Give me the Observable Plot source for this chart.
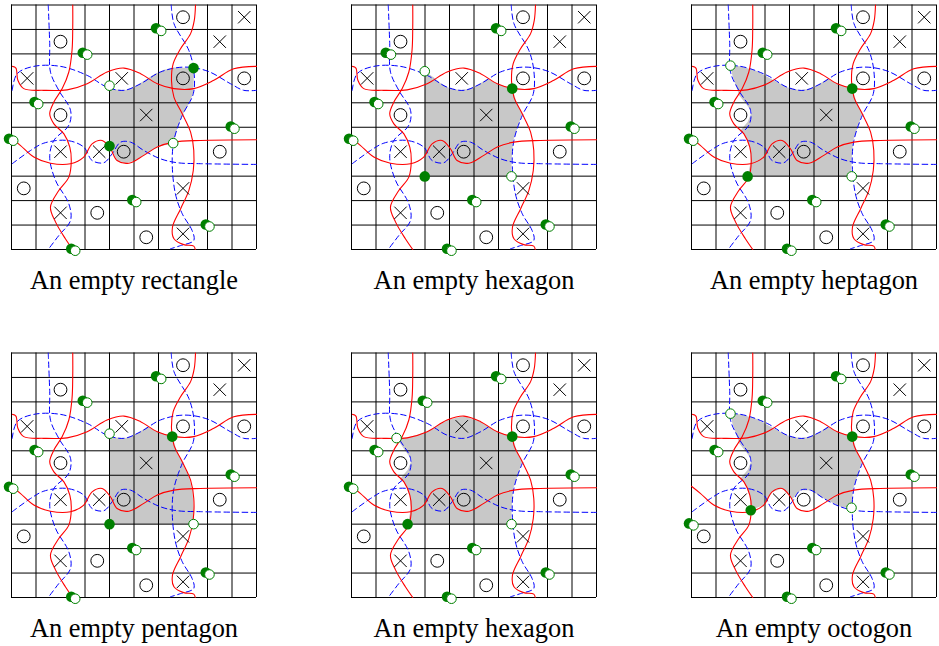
<!DOCTYPE html>
<html>
<head>
<meta charset="utf-8">
<script src="https://cdn.jsdelivr.net/npm/d3@7"></script>
<script src="https://cdn.jsdelivr.net/npm/@observablehq/plot@0.6"></script>
<style>
html,body{margin:0;padding:0;background:#fff;}
#root{position:relative;width:939px;height:646px;overflow:hidden;}
svg{overflow:visible;background:transparent;}
</style>
</head>
<body>
<div id="root"></div>
<script>
const gridX = [0,1,3,4,5,6,8,9,10];
const gridY = [0,1,2,4,5,7,8,9,10];

const crosses = [[9.5,.5],[8.5,1.5],[.64,3],[4.5,3],[5.5,4.5],[2,6],[3.58,6],[7,7.5],[2,8.5],[7,9.36]];
const circles = [[7,.5],[2,1.5],[7,3],[9.5,3],[2,4.5],[4.58,6],[8.5,6],[.5,7.5],[3.5,8.5],[5.5,9.5]];

const redV1 = [[2.5,0],[2.5,.9],[2.47,1.86],[2.34,2.74],[2.07,3.42],[1.73,3.97],[1.56,4.45],[1.73,4.86],[2.14,5.27],[2.38,5.81],[2.44,6.36],[2.34,7.04],[1.93,7.59],[1.59,8.27],[1.8,8.88],[2.2,9.56],[2.5,10]];
const redV2 = [[7.51,0],[7.46,.63],[7.31,1.17],[6.9,1.79],[6.6,2.4],[6.53,3.08],[6.63,3.77],[6.97,4.45],[7.31,5.2],[7.44,5.95],[7.42,6.77],[7.24,7.58],[6.9,8.34],[6.57,9.09],[6.63,9.56],[7.03,9.8],[7.44,9.86],[7.5,10]];
const redH1 = [[.04,2.51],[.18,2.58],[.26,3.08],[.5,3.42],[1.32,3.49],[2.27,3.47],[3.09,3.22],[3.9,2.74],[4.59,2.58],[5.27,2.81],[5.95,3.22],[6.63,3.42],[7.44,3.42],[8.26,3.08],[9.07,2.61],[10,2.51]];
const redH2 = [[0,5.45],[.36,5.74],[.91,6.22],[1.59,6.47],[2.41,6.49],[2.95,6.22],[3.29,5.68],[3.7,5.54],[4.04,5.88],[4.31,6.36],[4.79,6.47],[5.4,6.15],[5.95,5.81],[6.63,5.61],[7.71,5.54],[10,5.51]];
const blueV1 = [[1.5,0],[1.56,1.58],[1.59,2.74],[1.93,3.49],[2.41,4.31],[2.34,4.92],[1.73,5.54],[1.56,6.22],[1.8,7.18],[2.34,8.13],[2.41,8.81],[1.93,9.43],[1.52,9.97]];
const blueV2 = [[6.52,0],[6.63,.76],[7.24,1.86],[7.44,2.67],[7.42,3.63],[6.97,4.52],[6.63,5.54],[6.56,6.49],[6.69,7.72],[6.97,8.54],[7.37,9.22],[7.44,9.63],[6.9,9.84],[6.49,9.97]];
const blueH1 = [[.03,3.49],[.23,2.81],[.91,2.51],[2,2.51],[3.09,2.88],[3.9,3.36],[4.59,3.49],[5.27,3.22],[6.08,2.74],[7.03,2.54],[7.99,2.7],[8.94,3.22],[9.48,3.49],[10,3.49]];
const blueH2 = [[.03,6.49],[.78,5.95],[1.32,5.65],[2.27,5.54],[2.95,5.81],[3.29,6.36],[3.77,6.45],[4.11,6.08],[4.45,5.61],[4.86,5.61],[5.4,5.95],[6.08,6.29],[6.76,6.45],[7.71,6.49],[10,6.52]];
const redCurves = [redV1, redV2, redH1, redH2];
const blueCurves = [blueV1, blueV2, blueH1, blueH2];

const pairA = [[5.9,.95],[6.11,1.06]];
const pairB = [[2.91,1.95],[3.09,2.03]];
const pairB2 = [[1.4,1.95],[1.61,2.03]];
const pairC = [[.94,3.97],[1.09,4.05]];
const pairD = [[8.95,4.97],[9.1,5.06]];
const pairE = [[-.1,5.47],[.07,5.55]];
const pairE2 = [[-.1,6.97],[.08,7.05]];
const pairF = [[4.93,7.98],[5.09,8.06]];
const pairG = [[7.93,8.98],[8.08,9.06]];
const pairH = [[2.44,9.97],[2.6,10.05]];
const pairH2 = [[3.9,9.97],[4.08,10.05]];

const captions = ["An empty rectangle","An empty hexagon","An empty heptagon","An empty pentagon","An empty hexagon","An empty octogon"];

const regionRect = [[4,3.3],[4.18,3.45],[4.59,3.49],[4.99,3.38],[5.33,3.15],[5.81,2.84],[6.22,2.65],[6.63,2.56],[7.43,2.58],[7.44,3.08],[7.41,3.63],[7.24,4.04],[6.97,4.52],[6.76,5.06],[6.6,5.65],[5.95,5.81],[5.4,6.15],[4.99,6.38],[4.65,6.47],[4.31,6.36],[4.11,5.95],[4,5.77]];
const regionHex1 = [[2.99,2.71],[3.36,2.97],[3.63,3.19],[3.97,3.38],[4.45,3.49],[4.99,3.38],[5.54,3.02],[5.95,3.22],[6.56,3.42],[6.76,4.04],[6.97,4.45],[6.76,5.06],[6.6,5.54],[6.53,6.36],[6.53,7.01],[2.99,7.01]];
const regionHept = [[1.59,2.48],[2,2.51],[2.67,2.7],[3.2,3],[3.9,3.36],[4.45,3.49],[4.99,3.38],[5.54,3.02],[5.95,3.22],[6.56,3.42],[6.76,4.04],[6.97,4.45],[6.76,5.06],[6.6,5.54],[6.53,6.36],[6.53,7.01],[2.29,7.01],[2.42,6.4],[2.38,5.81],[2.14,5.27],[1.97,5.16],[2.29,4.79],[2.46,4.38],[2.22,4.04],[1.95,3.7],[1.67,2.88]];
const regionPent = [[4,3.3],[4.18,3.45],[4.59,3.49],[4.99,3.38],[5.54,3.02],[5.95,3.22],[6.56,3.42],[6.76,4.04],[6.97,4.45],[7.24,5.05],[7.38,5.6],[7.44,6.36],[7.43,7],[4,7]];
const regionHex2 = [[1.84,3.48],[2.27,3.47],[3.09,3.22],[3.9,2.74],[4.59,2.58],[5.27,2.81],[5.95,3.22],[6.56,3.42],[6.76,4.04],[6.97,4.45],[6.76,5.06],[6.6,5.54],[6.53,6.36],[6.53,7],[2.29,7],[2.42,6.4],[2.38,5.81],[2.14,5.27],[1.97,5.16],[2.29,4.79],[2.46,4.38],[2.22,4.04]];
const regionOct = [[1.59,2.48],[2,2.51],[2.67,2.7],[3.2,3],[3.9,3.36],[4.45,3.49],[4.99,3.38],[5.54,3.02],[5.95,3.22],[6.56,3.42],[6.76,4.04],[6.97,4.45],[6.76,5.06],[6.6,5.54],[6.53,6.33],[6.08,6.29],[5.4,5.95],[4.86,5.61],[4.45,5.61],[4.11,5.98],[3.7,5.54],[3.29,5.68],[2.95,6.22],[2.42,6.43],[2.38,5.81],[2.14,5.27],[1.97,5.16],[2.29,4.79],[2.46,4.38],[2.22,4.04],[1.95,3.7],[1.67,2.88]];

const solidSpecial = [
  [[7.43,2.58],[4,5.77]],
  [[6.56,3.42],[2.99,7.01]],
  [[6.56,3.42],[2.29,7.01]],
  [[6.56,3.42],[4,7]],
  [[6.56,3.42],[2.29,7]],
  [[6.56,3.42],[2.42,6.43]]
];
const openSpecial = [
  [[4,3.3],[6.6,5.65]],
  [[2.99,2.71],[6.53,7.01]],
  [[1.59,2.48],[6.54,7.01]],
  [[4,3.3],[7.43,7]],
  [[1.84,3.48],[6.53,7]],
  [[1.59,2.48],[6.53,6.33]]
];
const regions = [regionRect,regionHex1,regionHept,regionPent,regionHex2,regionOct];
const pairSets = [
  [pairA,pairB,pairC,pairD,pairE,pairF,pairG,pairH],
  [pairA,pairB2,pairC,pairD,pairE,pairF,pairG,pairH2],
  [pairA,pairB,pairC,pairD,pairE,pairF,pairG,pairH2],
  [pairA,pairB,pairC,pairD,pairE,pairF,pairG,pairH],
  [pairA,pairB,pairC,pairD,pairE,pairF,pairG,pairH2],
  [pairA,pairB,pairC,pairD,pairE2,pairF,pairG,pairH2]
];

const GREEN = "#008000";
const root = document.getElementById("root");

captions.forEach((caption, i) => {
  const pairs = pairSets[i];
  const chart = Plot.plot({
    width: 259, height: 300,
    marginLeft: 11, marginRight: 3, marginTop: 4.5, marginBottom: 51,
    x: {domain: [0,10], axis: null},
    y: {domain: [10,0], axis: null},
    marks: [
      Plot.line(regions[i], {fill: "#c8c8c8", stroke: "none", curve: "linear"}),
      Plot.ruleX(gridX, {y1: 0, y2: 10, stroke: "#000", strokeWidth: 1}),
      Plot.ruleY(gridY, {x1: 0, x2: 10, stroke: "#000", strokeWidth: 1}),
      ...blueCurves.map(c => Plot.line(c, {stroke: "#0000ff", strokeWidth: 1, strokeDasharray: "5.5,3.5", curve: "catmull-rom"})),
      ...redCurves.map(c => Plot.line(c, {stroke: "#ff0000", strokeWidth: 1.1, curve: "catmull-rom"})),
      Plot.dot(crosses, {symbol: "times", r: 5.7, stroke: "#000", strokeWidth: 1}),
      Plot.dot(circles, {r: 6.4, stroke: "#000", strokeWidth: 1, fill: "none"}),
      Plot.dot(pairs.map(p => p[0]).concat(solidSpecial[i]), {r: 5.3, fill: GREEN, stroke: "none"}),
      Plot.dot(pairs.map(p => p[1]).concat(openSpecial[i]), {r: 4.8, fill: "#fff", stroke: GREEN, strokeWidth: 1}),
      Plot.text([caption], {x: 5, y: 11.28, text: d => d, fontFamily: "Liberation Serif", fontSize: 26.4, fill: "#000", textAnchor: "middle"})
    ]
  });
  chart.style.position = "absolute";
  chart.style.left = (340 * (i % 3)) + "px";
  chart.style.top = (i < 3 ? 0 : 347.5) + "px";
  root.appendChild(chart);
});
</script>
</body>
</html>
